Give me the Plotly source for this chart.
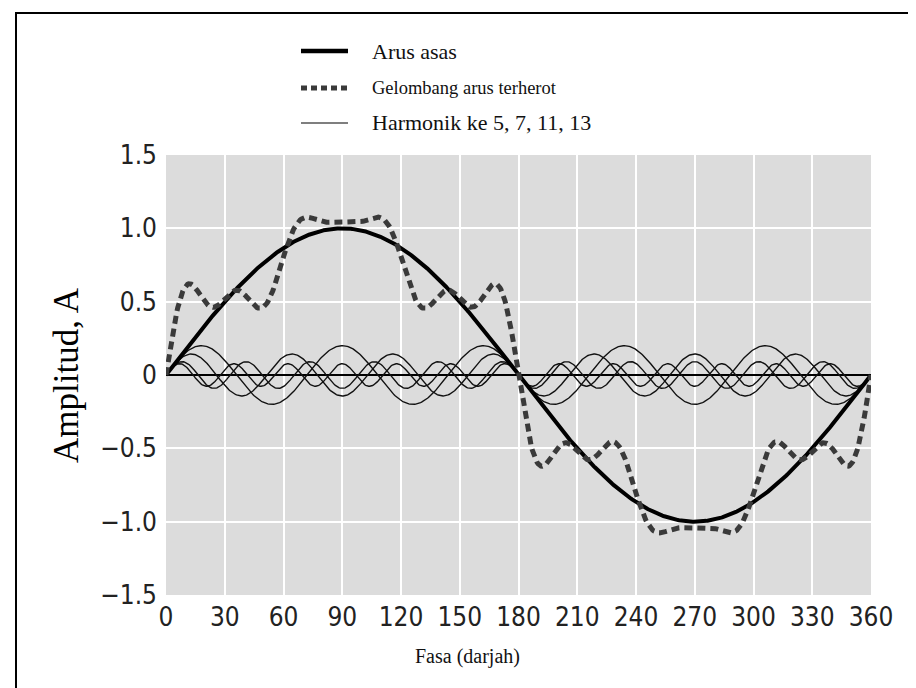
import numpy as np
import plotly.graph_objects as go

# ---- data ----
x_ticks = [0, 30, 60, 90, 120, 150, 180, 210, 240, 270, 300, 330, 360]
y_tickvals = [-1.5, -1.0, -0.5, 0, 0.5, 1.0, 1.5]
y_ticktext = ["\u22121.5", "\u22121.0", "\u22120.5", "0", "0.5", "1.0", "1.5"]

fundamental_amplitude = 1.0
harmonic_orders = [5, 7, 11, 13]
harmonic_amplitudes = [0.20, 0.143, 0.091, 0.077]

legend_labels = ["Arus asas", "Gelombang arus terherot", "Harmonik ke 5, 7, 11, 13"]
x_title = "Fasa (darjah)"
y_title = "Amplitud, A"

# ---- build curves ----
phase = np.linspace(0, 360, 721)
rad = np.deg2rad(phase)
fundamental = fundamental_amplitude * np.sin(rad)
harmonics = [a * np.sin(n * rad) for n, a in zip(harmonic_orders, harmonic_amplitudes)]
distorted = fundamental + sum(harmonics)

fig = go.Figure()
for h in harmonics:
    fig.add_trace(go.Scatter(x=phase, y=h, mode="lines",
                             line=dict(color="#111111", width=1.4), showlegend=False))
fig.add_trace(go.Scatter(x=phase, y=fundamental, mode="lines",
                         line=dict(color="#000000", width=4), showlegend=False))
fig.add_trace(go.Scatter(x=phase, y=distorted, mode="lines",
                         line=dict(color="#3a3a3a", width=5, dash="8px,5px"), showlegend=False))

# pixel -> paper helpers
L, R, T, B = 158, 863, 147, 587
def px(xp):
    return (xp - L) / (R - L)
def py(yp):
    return (B - yp) / (B - T)

serif = "Liberation Serif, Times New Roman, DejaVu Serif, serif"
shapes = []
annotations = []
# outer frame
shapes.append(dict(type="rect", xref="paper", yref="paper",
                   x0=px(8), x1=px(907), y0=py(683), y1=py(5),
                   line=dict(color="black", width=2), fillcolor="rgba(0,0,0,0)", layer="above"))

# manual legend
rows = [43, 80, 115]
styles = [dict(color="black", width=4.5),
          dict(color="#3a3a3a", width=5, dash="6px,4px"),
          dict(color="black", width=1.2)]
sizes = [22, 18.5, 22]
for r, st, lab, sz in zip(rows, styles, legend_labels, sizes):
    shapes.append(dict(type="line", xref="paper", yref="paper",
                       x0=px(293), x1=px(340), y0=py(r), y1=py(r), line=st))
    annotations.append(dict(xref="paper", yref="paper", x=px(362), y=py(r),
                            text=lab, showarrow=False, xanchor="left", yanchor="middle",
                            font=dict(family=serif, size=sz, color="#111111")))

annotations.append(dict(xref="paper", yref="paper", x=px(459), y=py(648),
                        text=x_title, showarrow=False, xanchor="center", yanchor="middle",
                        font=dict(family=serif, size=20, color="#111111")))
annotations.append(dict(xref="paper", yref="paper", x=px(58), y=0.5,
                        text=y_title, showarrow=False, textangle=-90,
                        xanchor="center", yanchor="middle",
                        font=dict(family=serif, size=35, color="#000000")))

tick_font = dict(family="Liberation Sans Narrow, DejaVu Sans Condensed, Arial Narrow, sans-serif",
                 size=26, color="#222222")

fig.update_layout(
    width=916, height=688,
    margin=dict(l=L, r=916 - R, t=T, b=688 - B),
    paper_bgcolor="white", plot_bgcolor="#dcdcdc",
    shapes=shapes, annotations=annotations,
    showlegend=False,
    xaxis=dict(range=[0, 360], tickvals=x_ticks, showgrid=True, gridcolor="white",
               gridwidth=2, zeroline=False, showline=False, ticks="",
               tickfont=tick_font, ticklabelstandoff=4),
    yaxis=dict(range=[-1.5, 1.5], tickvals=y_tickvals, ticktext=y_ticktext,
               showgrid=True, gridcolor="white", gridwidth=2,
               zeroline=True, zerolinecolor="black", zerolinewidth=1.5,
               showline=False, ticks="", tickfont=tick_font, ticklabelstandoff=8),
)

fig.write_html("out.html")
